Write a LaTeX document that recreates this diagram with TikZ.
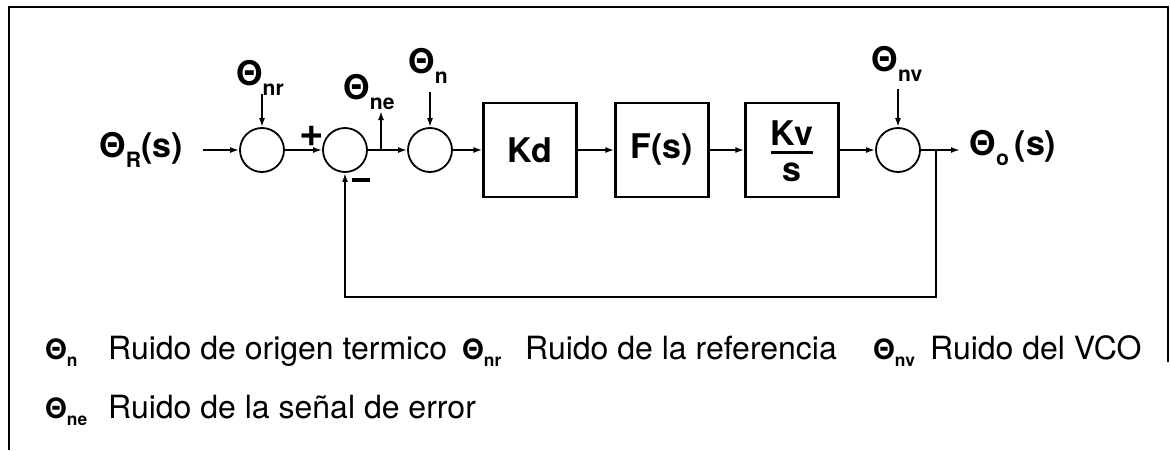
\documentclass[tikz,border=0pt]{standalone}
\usepackage{fontspec}
\setmainfont{TeX Gyre Heros}
\usetikzlibrary{arrows.meta}
\newcommand{\lidx}[1]{\raisebox{-0.28em}{\scalebox{0.62}{#1}}}
\begin{document}
\begin{tikzpicture}[x=1pt,y=-1pt,
  conn/.style={line width=1.8pt, -{Latex[length=9pt,width=6pt]}},
  sumc/.style={circle, draw, line width=1.8pt, minimum size=44pt, inner sep=0pt},
  blk/.style={draw, line width=2.2pt, minimum width=93pt, minimum height=94pt, inner sep=0pt, font=\fontsize{34}{40}\selectfont\bfseries},
  lbl/.style={font=\fontsize{34}{40}\selectfont\bfseries, inner sep=0pt},
  sgn/.style={font=\fontsize{42}{46}\selectfont\bfseries, inner sep=0pt},
  leg/.style={font=\fontsize{32}{36}\selectfont, anchor=base west, inner sep=0pt},
  legs/.style={font=\fontsize{28}{32}\selectfont\bfseries, anchor=base west, inner sep=0pt}]
\useasboundingbox (0,0) rectangle (1170,450);
% frame
\draw[line width=2.5pt] (9,450) -- (9,7) -- (1168,7) -- (1168,362);
% main chain
\node[lbl] (thR) at (141,150) {Θ\lidx{R}(s)};
\coordinate (in) at (203,150);
\node[sumc] (s1) at (262,150) {};
\node[sumc] (s2) at (345,150) {};
\node[sumc] (s3) at (430,150) {};
\node[blk] (kd) at (530,150) {Kd};
\node[blk] (fs) at (662,150) {F(s)};
\node[blk] (kv) at (792,150) {};
\node[lbl, anchor=base] (kvn) at (792,145) {Kv};
\node[lbl, anchor=base] (kvd) at (792,181) {s};
\draw[line width=3pt] (771,152) -- (813,152);
\node[sumc] (s4) at (898,150) {};
\coordinate (out) at (960,150);
\node[lbl] (thO) at (1013,148) {Θ\lidx{o}\,(s)};
\draw[conn] (in) -- (s1);
\draw[conn] (s1) -- (s2);
\draw[conn] (s2) -- (s3);
\draw[conn] (s3) -- (kd);
\draw[conn] (kd) -- (fs);
\draw[conn] (fs) -- (kv);
\draw[conn] (kv) -- (s4);
\draw[conn] (s4) -- (out);
% feedback
\coordinate (fb) at (936,150);
\draw[conn] (fb) -- (936,297) -| (s2.south);
\node[sgn] (plus) at (312,136) {+};
\node[inner sep=0pt] (minus) at (361,180) {\rule{18pt}{3.5pt}};
% noise inputs
\node[lbl] (nr) at (260,78) {Θ\lidx{nr}};
\coordinate (nrA) at (262,94);
\draw[conn] (nrA) -- (s1.north);
\node[lbl] (ne) at (369,92) {Θ\lidx{ne}};
\coordinate (neB) at (381,150);
\coordinate (neT) at (381,111);
\draw[conn] (neB) -- (neT);
\node[lbl] (nn) at (428,66) {Θ\lidx{n}};
\coordinate (nnA) at (430,92);
\draw[conn] (nnA) -- (s3.north);
\node[lbl] (nv) at (897,64) {Θ\lidx{nv}};
\coordinate (nvA) at (898,89);
\draw[conn] (nvA) -- (s4.north);
% legend
\node[legs] (l1s) at (45,359) {Θ\lidx{n}};
\node[leg] (l1t) at (108,359) {Ruido de origen termico};
\node[legs] (l2s) at (462,359) {Θ\lidx{nr}};
\node[leg] (l2t) at (525,359) {Ruido de la referencia};
\node[legs] (l3s) at (873,359) {Θ\lidx{nv}};
\node[leg] (l3t) at (930,359) {Ruido del VCO};
\node[legs] (l4s) at (45,418) {Θ\lidx{ne}};
\node[leg] (l4t) at (108,418) {Ruido de la señal de error};
\end{tikzpicture}
\end{document}
